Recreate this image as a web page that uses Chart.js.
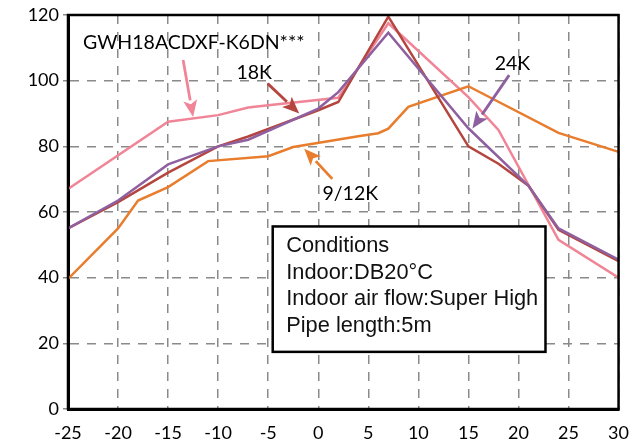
<!DOCTYPE html>
<html>
<head>
<meta charset="utf-8">
<script src="https://cdn.jsdelivr.net/npm/chart.js@4.4.0/dist/chart.umd.min.js"></script>
<style>
  html, body { margin: 0; padding: 0; background: #fff; }
  #wrap { width: 642px; height: 447px; position: relative; }
</style>
</head>
<body>
<div id="wrap"><canvas id="myChart"></canvas></div>
<script>
// outdoor temperature (x) vs capacity % (y)
const pinkX = [-25, -15, -10, -7, -5, 2, 7, 15, 18, 24, 30];
const pinkY = [67, 87.5, 89.5, 91.8, 92.5, 94.8, 117.5, 95, 85, 51.5, 40];

const redX = [-25, -20, -15, -10, -7, 0, 2, 7, 15, 18, 21, 24, 30];
const redY = [55, 63, 72, 80, 83, 91, 93.5, 119.5, 80, 74.7, 68, 54.6, 45];

const purpleX = [-25, -20, -15, -10, -7, 0, 2, 7, 15, 21, 24, 30];
const purpleY = [55, 63.5, 74.5, 80, 82, 91.5, 96.5, 114.6, 85.5, 68, 55, 45.5];

const orangeX = [-25, -20, -18, -15, -11, -5, -2.5, 4, 6, 7, 9, 15, 24, 30];
const orangeY = [39.6, 55, 63.5, 67.6, 75.5, 77, 79.8, 83.1, 84, 85.4, 92, 98.3, 84.1, 78.3];

const xTicks = [-25, -20, -15, -10, -5, 0, 5, 10, 15, 20, 25, 30];
const yTicks = [0, 20, 40, 60, 80, 100, 120];

const conditions = ['Conditions', 'Indoor:DB20\u00b0C', 'Indoor air flow:Super High', 'Pipe length:5m'];

const PINK = '#ef8597', RED = '#b4463f', PURPLE = '#8f609f', ORANGE = '#e87d2d';

function pts(xs, ys) {
    return xs.map((x, i) => ({ x: x, y: ys[i] }));
}

// labels + arrows, positioned in data units
const notes = [
    { text: 'GWH18ACDXF-K6DN***', x: -23.5, y: 111.5, align: 'left', color: PINK, from: [-13.5, 106.3], to: [-12.5, 88.9] },
    { text: '18K', x: -6.4, y: 102.3, align: 'center', color: RED, from: [-5.05, 99.1], to: [-1.9, 90] },
    { text: '24K', x: 19.4, y: 105.2, align: 'center', color: PURPLE, from: [19.07, 101.7], to: [15.4, 85.4] },
    { text: '9/12K', x: 3.2, y: 65.6, align: 'center', color: ORANGE, from: [1.4, 70.1], to: [-1.4, 79.3] }
];
const box = { left: -4.55, right: 22.7, top: 55.6, bottom: 17.4 };

function arrow(ctx, x1, y1, x2, y2, color) {
    const ang = Math.atan2(y2 - y1, x2 - x1);
    const len = 17, half = 7;
    const bx = x2 - len * Math.cos(ang), by = y2 - len * Math.sin(ang);
    ctx.strokeStyle = color;
    ctx.fillStyle = color;
    ctx.lineWidth = 2.8;
    ctx.beginPath();
    ctx.moveTo(x1, y1);
    ctx.lineTo(bx, by);
    ctx.stroke();
    ctx.beginPath();
    ctx.moveTo(x2, y2);
    ctx.lineTo(bx + half * Math.sin(ang), by - half * Math.cos(ang));
    ctx.lineTo(bx + 4 * Math.cos(ang), by + 4 * Math.sin(ang));
    ctx.lineTo(bx - half * Math.sin(ang), by + half * Math.cos(ang));
    ctx.closePath();
    ctx.fill();
}

const extras = {
    id: 'extras',
    afterDatasetsDraw(chart) {
        const ctx = chart.ctx, xs = chart.scales.x, ys = chart.scales.y;
        const a = chart.chartArea;
        ctx.save();
        // outer frame (top/right)
        ctx.strokeStyle = '#000';
        ctx.lineWidth = 2.5;
        ctx.strokeRect(a.left, a.top, a.right - a.left, a.bottom - a.top);

        // notes
        ctx.font = '19.5px Lato';
        ctx.textBaseline = 'middle';
        notes.forEach(n => {
            ctx.fillStyle = '#000';
            ctx.textAlign = n.align;
            ctx.fillText(n.text, xs.getPixelForValue(n.x), ys.getPixelForValue(n.y));
            arrow(ctx, xs.getPixelForValue(n.from[0]), ys.getPixelForValue(n.from[1]),
                  xs.getPixelForValue(n.to[0]), ys.getPixelForValue(n.to[1]), n.color);
        });

        // conditions box
        const l = xs.getPixelForValue(box.left), r = xs.getPixelForValue(box.right);
        const t = ys.getPixelForValue(box.top), b = ys.getPixelForValue(box.bottom);
        ctx.fillStyle = '#fff';
        ctx.fillRect(l, t, r - l, b - t);
        ctx.strokeStyle = '#000';
        ctx.lineWidth = 2.5;
        ctx.strokeRect(l, t, r - l, b - t);
        ctx.fillStyle = '#111';
        ctx.font = '21.8px "Liberation Sans", Arial, sans-serif';
        ctx.textAlign = 'left';
        conditions.forEach((s, i) => {
            ctx.fillText(s, l + 13.5, t + 19.5 + i * 26.7);
        });
        ctx.restore();
    }
};

const ctx = document.getElementById('myChart').getContext('2d');

new Chart(ctx, {
    type: 'line',
    data: {
        datasets: [
            { data: pts(purpleX, purpleY), borderColor: PURPLE },
            { data: pts(redX, redY), borderColor: RED },
            { data: pts(orangeX, orangeY), borderColor: ORANGE },
            { data: pts(pinkX, pinkY), borderColor: PINK }
        ]
    },
    options: {
        responsive: true,
        maintainAspectRatio: false,
        animation: false,
        layout: { padding: { top: 15, right: 20, left: 0, bottom: 0 } },
        elements: {
            line: { borderWidth: 2.5, tension: 0, fill: false },
            point: { radius: 0, hoverRadius: 0 }
        },
        plugins: { legend: { display: false }, tooltip: { enabled: false } },
        scales: {
            x: {
                type: 'linear',
                min: -25, max: 30,
                afterBuildTicks: s => { s.ticks = xTicks.map(v => ({ value: v })); },
                afterFit: s => { s.height = 38; },
                grid: { color: '#8a8a8a', lineWidth: 1.5, drawTicks: false },
                border: { color: '#000', width: 3, dash: [9, 8] },
                ticks: {
                    color: '#000', padding: 13, maxRotation: 0,
                    font: { family: 'Lato', size: 18 }
                }
            },
            y: {
                min: 0, max: 120,
                afterBuildTicks: s => { s.ticks = yTicks.map(v => ({ value: v })); },
                afterFit: s => { s.width = 68; },
                grid: { color: '#8a8a8a', lineWidth: 1.5, tickLength: 5, tickColor: '#8a8a8a' },
                border: { color: '#000', width: 3, dash: [9, 8] },
                ticks: {
                    color: '#000', padding: 4,
                    font: { family: 'Lato', size: 18 }
                }
            }
        }
    },
    plugins: [extras]
});
</script>
</body>
</html>
